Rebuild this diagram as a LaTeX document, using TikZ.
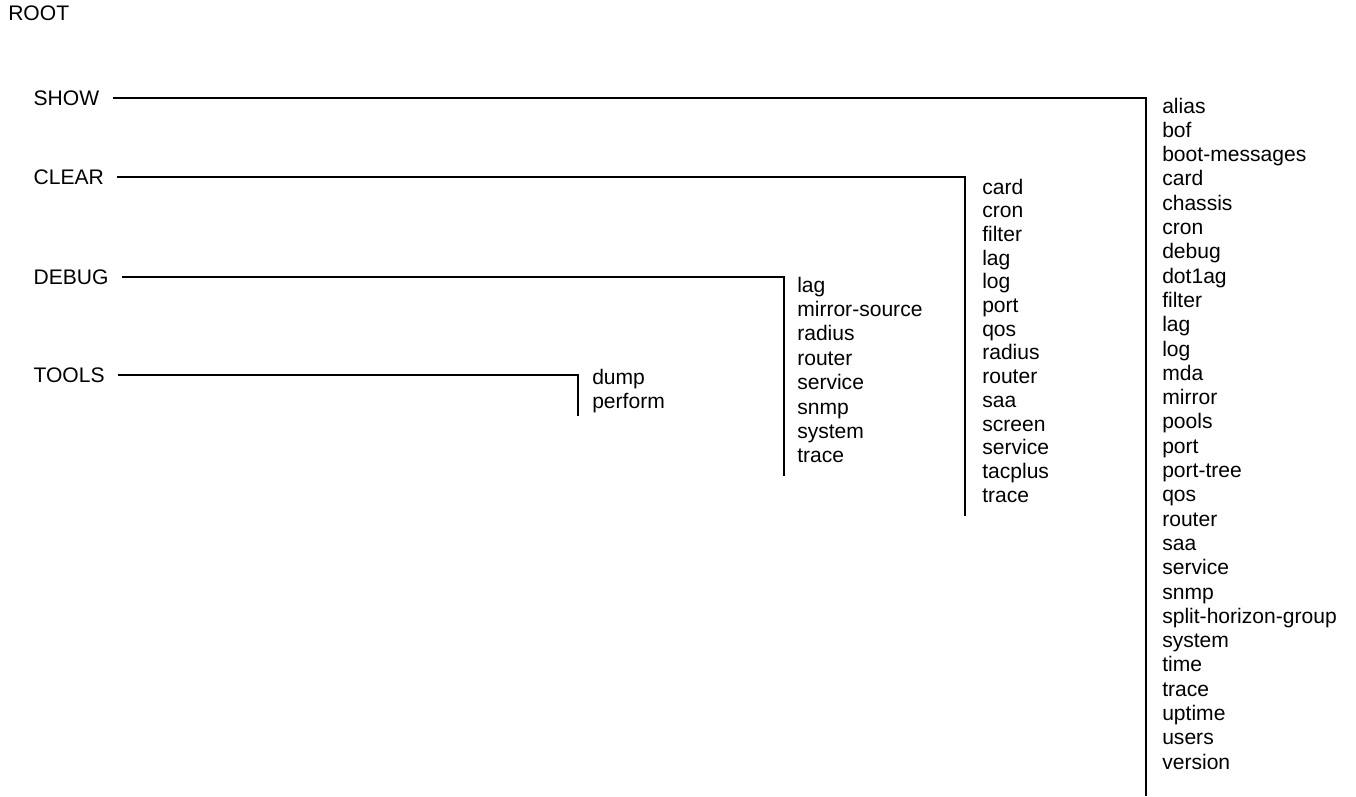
\documentclass[tikz,border=0pt]{standalone}
\usepackage{fontspec}
\setmainfont{Liberation Sans}
\newcommand{\cmdfont}{\fontsize{15.8}{19}\selectfont}

\tikzset{cmdhead/.style={font=\cmdfont,anchor=west,inner xsep=10pt,inner ysep=0pt},
         cmdlab/.style={font=\cmdfont,anchor=base west,inner sep=0pt},
         cmdline/.style={line width=1.5pt}}

\begin{document}
\begin{tikzpicture}[x=0.75pt,y=-0.75pt]
  \useasboundingbox (0,0) rectangle (1356,796);
  \node[cmdlab] (root) at (8,21) {ROOT};
  % first level
  \foreach \y/\n/\t in {98/show/SHOW,177/clear/CLEAR,277/debug/DEBUG,375/tools/TOOLS}
    \node[cmdhead] (\n) at (20,\y) {\t};
  % show
  \coordinate (showc) at (1146,98); \coordinate (showb) at (1146,796);
  \draw[cmdline] (show.east)--(showc)--(showb);
  \foreach \w [count=\i] in {alias,bof,boot-messages,card,chassis,cron,debug,dot1ag,filter,lag,log,mda,mirror,pools,port,port-tree,qos,router,saa,service,snmp,split-horizon-group,system,time,trace,uptime,users,version}
    \node[cmdlab] (sh\i) at (1162,{113+(\i-1)*24.3}) {\w};
  % clear
  \coordinate (clearc) at (965,177); \coordinate (clearb) at (965,516);
  \draw[cmdline] (clear.east)--(clearc)--(clearb);
  \foreach \w [count=\i] in {card,cron,filter,lag,log,port,qos,radius,router,saa,screen,service,tacplus,trace}
    \node[cmdlab] (cl\i) at (982,{194+(\i-1)*23.7}) {\w};
  % debug
  \coordinate (debugc) at (784,277); \coordinate (debugb) at (784,476);
  \draw[cmdline] (debug.east)--(debugc)--(debugb);
  \foreach \w [count=\i] in {lag,mirror-source,radius,router,service,snmp,system,trace}
    \node[cmdlab] (db\i) at (797,{292+(\i-1)*24.4}) {\w};
  % tools
  \coordinate (toolsc) at (578,375); \coordinate (toolsb) at (578,416);
  \draw[cmdline] (tools.east)--(toolsc)--(toolsb);
  \foreach \w [count=\i] in {dump,perform}
    \node[cmdlab] (tl\i) at (592,{384+(\i-1)*24}) {\w};
\end{tikzpicture}
\end{document}
